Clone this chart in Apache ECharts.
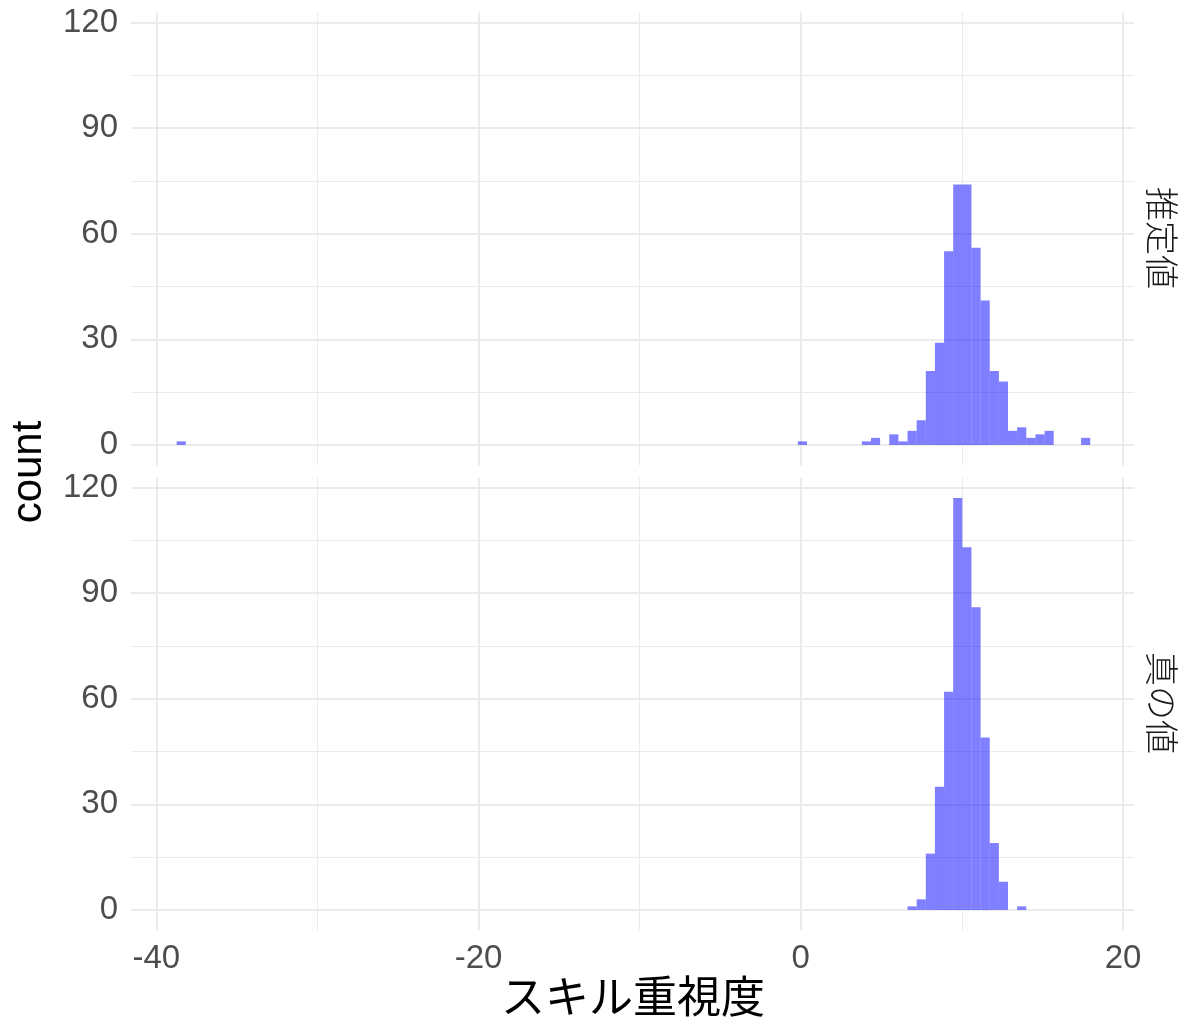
<!DOCTYPE html>
<html>
<head>
<meta charset="utf-8">
<script src="https://cdn.jsdelivr.net/npm/echarts@6/dist/echarts.min.js"></script>
<style>html,body{margin:0;padding:0;background:#fff}#c{width:1200px;height:1036px}</style>
</head>
<body>
<div id="c"></div>
<script>
// histogram bins: left edge = binOrigin + index * binWidth
const binOrigin = 3.79;
const binWidth = 0.567;
const facetLabels = ['推定値', '真の値'];
const estBins   = [-75, -7, 0, 1, 3, 4, 5, 6, 7, 8, 9, 10, 11, 12, 13, 14, 15, 16, 17, 18, 19, 20, 24];
const estCounts = [1, 1, 1, 2, 3, 1, 4, 7, 21, 29, 55, 74, 74, 56, 41, 21, 18, 4, 5, 2, 3, 4, 2];
const trueBins   = [5, 6, 7, 8, 9, 10, 11, 12, 13, 14, 15, 17];
const trueCounts = [1, 3, 16, 35, 62, 117, 103, 86, 49, 19, 8, 1];
const xMajorTicks = [-40, -20, 0, 20];
const xMinorTicks = [-30, -10, 10];
const yMajorTicks = [0, 30, 60, 90, 120];
const yMinorTicks = [15, 45, 75, 105];
const xRange = [-41.57, 20.7];
const yRange = [-5.85, 122.85];
const xTitle = 'スキル重視度';
const yTitle = 'count';

function toData(bins, counts) {
  return bins.map((b, i) => [binOrigin + b * binWidth, binOrigin + (b + 1) * binWidth, counts[i]]);
}

const chart = echarts.init(document.getElementById('c'), null, {renderer: 'canvas'});
const tickFont = {fontFamily: '"Liberation Sans", Arial, sans-serif', fontSize: 33, color: '#4D4D4D'};
const grids = [
  {left: 131, width: 1003.3, top: 12.5, height: 453},
  {left: 131, width: 1003.3, top: 477.5, height: 453}
];
const xAxes = [], yAxes = [], series = [];
grids.forEach((g, gi) => {
  xAxes.push({
    type: 'value', gridIndex: gi, min: xRange[0], max: xRange[1],
    axisLine: {show: false},
    axisTick: {show: false, customValues: xMajorTicks},
    axisLabel: {show: gi === 1, customValues: xMajorTicks, margin: 12, ...tickFont},
    splitLine: {show: true, lineStyle: {color: '#EBEBEB', width: 2}}
  });
  xAxes.push({
    type: 'value', gridIndex: gi, min: xRange[0], max: xRange[1],
    axisLine: {show: false},
    axisTick: {show: false, customValues: xMinorTicks},
    axisLabel: {show: false, customValues: xMinorTicks},
    splitLine: {show: true, lineStyle: {color: '#EBEBEB', width: 1}}
  });
  yAxes.push({
    type: 'value', gridIndex: gi, min: yRange[0], max: yRange[1],
    axisLine: {show: false},
    axisTick: {show: false, customValues: yMajorTicks},
    axisLabel: {show: true, customValues: yMajorTicks, margin: 13, ...tickFont},
    splitLine: {show: true, lineStyle: {color: '#EBEBEB', width: 2}}
  });
  yAxes.push({
    type: 'value', gridIndex: gi, min: yRange[0], max: yRange[1],
    axisLine: {show: false},
    axisTick: {show: false, customValues: yMinorTicks},
    axisLabel: {show: false, customValues: yMinorTicks},
    splitLine: {show: true, lineStyle: {color: '#EBEBEB', width: 1}}
  });
  series.push({
    type: 'custom',
    xAxisIndex: gi * 2, yAxisIndex: gi * 2,
    data: gi === 0 ? toData(estBins, estCounts) : toData(trueBins, trueCounts),
    encode: {x: [0, 1], y: 2},
    renderItem: function (params, api) {
      const p0 = api.coord([api.value(0), api.value(2)]);
      const p1 = api.coord([api.value(1), 0]);
      return {
        type: 'rect',
        shape: {x: p0[0], y: p0[1], width: p1[0] - p0[0], height: p1[1] - p0[1]},
        style: {fill: 'rgba(0,0,255,0.5)'}
      };
    }
  });
});

chart.setOption({
  backgroundColor: '#fff',
  animation: false,
  grid: grids,
  xAxis: xAxes,
  yAxis: yAxes,
  series: series,
  graphic: [
    {type: 'text', x: 633, y: 996, style: {text: xTitle, fontFamily: '"Noto Sans CJK JP", sans-serif', fontSize: 44, fill: '#000', align: 'center', verticalAlign: 'middle'}},
    {type: 'text', x: 29, y: 472, rotation: Math.PI / 2, style: {text: yTitle, fontFamily: '"Liberation Sans", Arial, sans-serif', fontSize: 42, fill: '#000', align: 'center', verticalAlign: 'middle'}},
    {type: 'text', x: 1162, y: 238, rotation: -Math.PI / 2, style: {text: facetLabels[0], fontFamily: '"Noto Sans CJK JP", sans-serif', fontWeight: 300, fontSize: 34, fill: '#1A1A1A', align: 'center', verticalAlign: 'middle'}},
    {type: 'text', x: 1162, y: 703, rotation: -Math.PI / 2, style: {text: facetLabels[1], fontFamily: '"Noto Sans CJK JP", sans-serif', fontWeight: 300, fontSize: 34, fill: '#1A1A1A', align: 'center', verticalAlign: 'middle'}}
  ]
});
</script>
</body>
</html>
